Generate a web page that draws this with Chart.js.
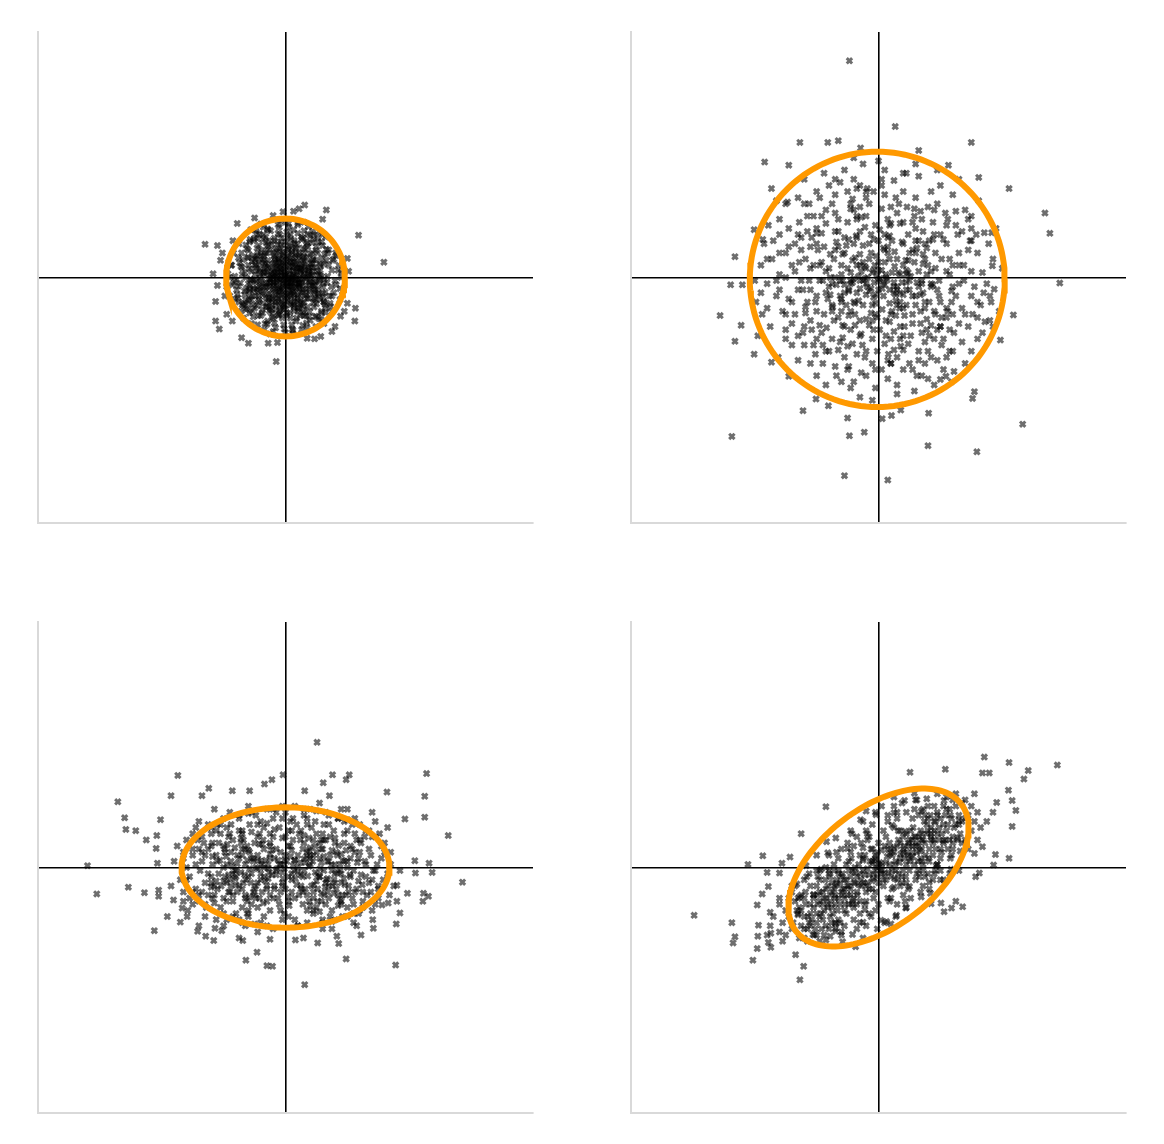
<!DOCTYPE html>
<html>
<head>
<meta charset="utf-8">
<script src="https://cdn.jsdelivr.net/npm/chart.js@4/dist/chart.umd.min.js"></script>
<style>
  html, body { margin: 0; padding: 0; background: #fff; }
  #wrap { position: relative; width: 1164px; height: 1144px; }
  #wrap canvas { position: absolute; }
</style>
</head>
<body>
<div id="wrap">
  <canvas id="c1" width="515" height="511"></canvas>
  <canvas id="c2" width="515" height="511"></canvas>
  <canvas id="c3" width="515" height="511"></canvas>
  <canvas id="c4" width="515" height="511"></canvas>
</div>
<script>
// axes have no ticks, values are in hundredths of a unit
let axisRange = [-400, 400];

// top left: small round cloud
let tlCore = [[-12,8],[5,-3],[23,14],[-31,-9],[41,22],[-7,35],[14,-28],[-45,11],[30,-40],[2,47],[-20,-18],[55,3],[-58,-20],[9,62],[-33,40],[47,-33],[-15,-52],[66,28],[-70,5],[18,-66],[-4,-11],[27,31],[-38,27],[11,18],[-22,-36],[38,-7],[-53,-44],[60,-15],[-9,70],[35,55],[-61,33],[22,-50],[-27,60],[49,44],[-47,-5],[3,-38],[71,-30],[-76,-14],[13,78],[-40,-62],[58,-55],[-18,24],[6,10],[-3,-25],[29,-19],[-26,5],[16,37],[-50,21],[44,9],[-11,-61],[33,-62],[-64,-37],[75,12],[-6,53],[19,-9],[-35,-24],[52,-29],[-17,46],[8,-45],[-43,52],[63,38],[-29,-71],[40,68],[-74,24],[24,4],[-14,-3],[0,20],[-56,-3],[36,-48],[-24,76],[57,19],[-68,-46],[10,-77],[-2,30],[31,12],[-37,8],[20,-33],[-48,-30],[45,30],[-8,-48],[67,-8],[-62,47],[15,56],[-30,-47],[50,-43],[-20,40],[4,-16],[28,48],[-42,-14],[62,-40],[-5,-66],[39,-24],[-55,10],[17,26],[-25,-8],[7,-57],[-66,-28],[53,58],[-10,82],[34,-74],[-80,-4],[82,-12],[-36,70],[26,-85],[-13,15],[21,-2],[-1,-34],[42,-14],[-60,20],[11,42],[-46,34],[48,-63],[-23,-58],[70,45],[-72,-55],[5,88],[-34,-85],[60,70],[-87,20],[86,20],[-16,-82],[37,83],[-52,-64],[16,-4],[-7,4],[3,-6],[-19,-13],[25,22],[-28,17],[12,-21],[-41,-1],[34,1],[-11,28],[9,-31],[-32,-32],[43,40],[-4,41],[18,15],[-24,-27],[31,-30],[-49,5],[56,-4],[1,58],[-57,-13],[47,17],[-12,-40],[23,-43],[-39,44],[64,-24],[-63,-18],[2,-62],[29,64],[-45,63],[54,-67],[-71,40],[73,-47],[-18,64],[39,-56],[-54,-54],[8,70],[-30,50],[50,50],[-3,-77],[68,2],[-77,-33],[24,-62],[-6,-2],[13,5],[-17,-20],[22,-14],[-34,14],[7,26],[-9,-18],[19,33],[-27,-40],[41,-3],[-44,-22],[32,24],[-13,54],[46,-22],[-52,36],[14,-48],[-37,-58],[59,31],[-66,8],[26,66],[-21,-67],[65,-57],[-79,-20],[78,-25],[-48,76],[44,75],[-8,93],[88,-36],[-93,6],[12,-92],[-40,87],[65,66],[-68,-66],[90,8],[6,-1],[-2,13],[15,-12],[-14,-7],[10,25],[-21,10],[27,-7],[-10,-28],[35,-34],[-31,22],[4,37],[-42,-37],[39,16],[-16,32],[20,-55],[-58,-32],[53,5],[-26,-49],[30,40],[-50,-20],[61,-32],[-6,64],[17,-71],[-64,53],[49,-8],[-73,-9],[36,71],[-29,79],[74,-15],[-57,62],[58,-69],[-45,-77],[-84,40],[81,40],[20,89],[-25,-92],[49,-80],[-90,-30],[-3,2],[8,-9],[-15,23],[24,-25],[-36,-16],[38,7],[-5,-42],[45,-40],[-47,15],[16,48],[-22,-45],[55,22],[-60,-40],[2,74],[-35,35],[63,-2],[-69,29],[28,-58],[-12,72],[43,57],[-75,-40],[76,28],[-33,-75],[11,-84],[-83,-8],[62,-75],[-56,78],[30,90],[-95,-15],[92,-28],
  [-3,-4],[7,11],[-11,-15],[14,2],[-18,6],[4,-20],[21,-10],[-9,19],[1,28],[-25,-2],[17,-17],[-6,-30],[26,13],[-16,-24],[9,-8],[-21,21],[32,-3],[-30,9],[12,32],[-2,-52],[36,15],[-40,-20],[24,-36],[-14,42],[44,-12],[-48,-8],[5,45],[-36,-42],[40,38],[-8,-58],[52,-18],[-54,26],[19,54],[-26,44],[30,-52],[-44,40],[56,12],[-60,-10],[8,-66],[46,-48],[-50,-50],[-18,60],[62,22],[-64,0],[34,58],[-4,-8],[10,-2],[-13,4],[6,18],[-8,-22],[18,8],[-20,-8],[2,-14],[15,24],[-24,14],[27,-24],[-12,-34],[30,20],[-32,-16],[-4,38],[38,-18],[-36,30],[10,-42],[22,40],[-44,-30],[44,4],[-16,-44],[50,28],[-52,-18],[28,-46],[-28,52],[0,-46],[54,-6],[-58,14],[14,60],[-38,-52],[48,-36],[-46,48],[60,-26],[-20,-64],[3,5],[-5,-15],[11,-6],[-7,9],[16,16],[-15,-12],[23,-2],[-22,0],[6,-26],[-10,31],[28,28],[-27,-26],[33,-12],[-34,4],[4,-36],[20,-28],[-18,35],[37,5],[-41,15],[-28,-34],[42,24],[-8,48],[14,-54],[-48,30],[48,-26],[-22,-52],[32,46],[-56,-4],[58,2],[-12,-62],[4,66],[-60,32],[62,-10],[-36,62],[38,-64],[-66,-22],[66,46],[0,0],[-2,7],[9,-14],[-12,-2],[7,2],[-17,13],[13,-24],[-3,22],[22,-18],[-26,-16],[19,-39],[35,32],[-39,-6],[25,10],[-31,-48],[47,-6],[-43,24],[10,50],[-10,-54],[52,40],[-56,-36],[26,62],[-32,66],[64,-44],[-70,16],[-15,1],[11,1],[1,-27],[-5,17],[30,2],[-28,28],
  [-1,3],[4,-9],[-9,-5],[13,12],[-14,17],[17,-4],[-19,-9],[8,21],[-6,-19],[21,15],[-23,4],[24,-15],[-11,25],[3,-29],[29,6],[-29,-14],[14,-34],[-18,30],[33,-20],[-34,24],[2,34],[-7,-38],[37,12],[-37,-28],[22,36],[-26,-36],[40,-8],[-42,6],[10,40],[-16,-40],[44,28],[-46,-18],[26,-42],[-30,40],[48,-20],[-50,30],[6,52],[-4,-50],[52,10],[-54,-30],[20,-50],[-22,54],[-5,10],[7,-14],[-12,-22],[16,4],[-20,2],[12,-16],[-8,14],[19,22],[-24,-4],[25,-8],[-15,-30],[8,30],[-32,18],[34,-28],[-3,-44],[30,34],[-38,-10],[41,4],[-10,44],[14,-40],[-44,-40],[46,-14],[-48,20],[18,46],[-52,-4],[54,-26],[-26,-54],[36,50],[0,-10],[-6,25],[10,-24],[-16,8],[22,-10],[-28,-8],[27,17],[-20,-33],[13,-45],[-35,8],[38,-34],[-40,36],[44,16],[-46,-46],[2,-58],[-8,58],[56,-36],[-58,-22],[30,-62],[-32,58],
  [70,20],[-72,18],[20,72],[-18,-74],[62,-40],[-60,44],[45,62],[-44,-62],[80,-5],[-82,2],[5,82],[-2,-84],[58,58],[-58,-58],[58,-58],[-58,58],[75,-30],[-76,32],[30,76],[-30,-76],[68,40],[-66,-42],[40,-70],[-42,70],[85,12],[-86,-12],[12,-86],[-12,86],[65,-50],[-64,-52],[52,66],[-50,64],[78,30],[-78,-28],[28,-78],[-28,78],[88,-18],[-88,20],[-20,-88],[20,86],[72,-42],[-70,-44],[46,70],[-46,72],[60,52],[-62,-50],[50,-64],[-52,60],[90,0],[-90,0],[0,90],[0,-90],[35,-82],[-36,82],[82,36],[-82,-36],[55,75],[-55,-75],[75,-55],[-75,55]];
let tlOuter = [[-130,54],[-110,52],[-78,88],[22,112],[31,118],[13,108],[-4,107],[66,110],[118,69],[159,25],[-117,6],[-105,28],[-110,-13],[-113,-39],[-113,-71],[-107,-84],[-86,-71],[-71,-98],[-60,-107],[-28,-107],[-13,-106],[-15,-137],[47,-100],[57,-96],[89,-63],[113,-50],[112,-71],[100,-42],[100,31],[-102,40],[-98,-30],[95,-55],[80,-80],[-85,60],[60,95],[-50,97],[102,10],[-95,-60],[35,-99],[-20,101],[75,-88]];

// top right: wide round cloud
let trCore = [[-20,15],[35,-40],[-65,50],[80,20],[-100,-30],[15,95],[-45,-85],[120,-60],[-130,70],[60,130],[-10,-140],[150,10],[-160,-20],[25,-15],[-38,32],[70,-90],[-85,110],[110,85],[-120,-110],[5,160],[40,-150],[-150,40],[165,-45],[-5,-60],[55,45],[-75,-10],[95,-20],[-30,75],[12,-95],[-110,15],[130,40],[-55,-130],[85,-130],[-140,-75],[45,170],[-80,150],[140,110],[-170,60],[175,-10],[30,-175],[-12,40],[48,8],[-52,-45],[88,62],[-92,72],[18,-72],[-26,-110],[105,-100],[-118,-58],[68,108],[-42,128],[125,-30],[-135,10],[10,135],[-68,-160],[158,70],[-180,-10],[0,-5],[22,60],[-60,20],[75,-50],[-35,-25],[8,-30],[-88,-60],[102,30],[-20,100],[40,90],[-105,100],[115,-85],[-75,-100],[-2,-120],[145,-80],[-155,-55],[62,-160],[-100,140],[100,150],[-190,20],[185,30],[-25,185],[28,-38],[-48,62],[65,10],[-15,-78],[90,-55],[-78,38],[33,120],[-122,-20],[128,70],[-50,-150],[80,-165],[-160,95],[168,-90],[-5,-180],[-130,-135],[120,135],[-30,-5],[10,25],[45,-20],[-58,-5],[22,-55],[-40,55],[72,38],[-82,-35],[55,-75],[-12,70],[98,-5],[-98,45],[36,-112],[-65,-118],[110,55],[-145,-35],[138,-5],[5,112],[-115,75],[80,115],[-40,160],[150,-120],[-175,-80],[60,185],[-85,-175],[195,-55],[-198,-40],[14,-4],[-8,12],[30,30],[-25,-45],[50,-5],[-45,8],[15,50],[-62,-30],[42,-62],[-20,-28],[68,-28],[-35,95],[88,90],[-95,-5],[25,-88],[-70,75],[115,5],[-108,-85],[65,-120],[-20,-160],[135,-50],[-150,120],[40,140],[-125,45],[160,40],[-55,175],[105,-150],[-140,-110],[-185,55],[180,-70],[-10,-200],[95,175],[-7,-8],[18,-20],[-38,-60],[58,25],[-30,38],[2,78],[-72,-70],[85,-78],[-50,90],[40,-95],[-115,-40],[120,-15],[-15,120],[72,75],[-90,-140],[145,95],[-165,-5],[25,158],[-35,-125],[170,-25],[-120,160],[140,-140],[-195,-95],[190,80],[12,5],[-18,-15],[38,-8],[-48,-22],[26,42],[-55,40],[60,-45],[-5,-42],[78,5],[-80,15],[48,70],[-28,-92],[100,-40],[-105,-110],[20,115],[-135,55],[130,-75],[-70,135],[85,140],[-60,-170],[155,-15],[-172,30],[50,-140],[-112,120],[178,55],[0,190],[-162,-130],[118,-170],[-4,35],[28,-62],[-42,-8],[62,48],[-68,58],[35,5],[-22,82],[82,-40],[-95,-78],[10,-108],[-125,-5],[108,105],[-45,112],[138,20],[-150,-85],[75,-140],[-88,170],[160,-100],[-30,-195],[-200,-5],[200,15],[-22,-2],[6,-52],[44,28],[-36,68],[70,-10],[-74,-48],[20,88],[-100,55],[92,40],[-58,-98],[48,-108],[-128,25],[125,108],[-18,145],[152,-60],[-160,70],[-100,-160],[65,165],[-188,-60],[182,-40],[30,-190],[-6,20],[40,-28],[-30,-70],[55,90],[-85,88],[90,-100],[-110,-20],[5,-150],[148,60],[-140,-40],[-48,-145],[110,-130],[-130,130],[130,160],[-55,-12],[-15,55],[35,-80],[-70,0],[78,-68],[-40,-40],[60,60],[-92,25],[16,-125],[120,20],[-102,-125],[46,115],[-160,5],[168,8],[-62,155],[90,-175],[-178,85],[162,125],[-40,195],[45,12],[-10,-100],[-115,100],[100,-80],[2,-2],[-60,-55],[70,95],[-25,25],[25,-25],[-80,-120],[135,-105],[-45,-180],[-145,80],[150,-30],[0,60],[-120,-80],[112,-55],[30,-130],[-75,120],[95,120],[-180,-50],[185,-80],[-28,-155],[58,-185],[-165,125],[-35,145],[15,-165],[-100,-55],[55,-30],[-65,95],[85,-15],[-130,-95],[125,85],[-8,-85],[-55,65],[75,-105],[-95,130],[100,70],[40,-50],[-30,115],[-110,-140],[160,-65],[-190,-25],[10,175],[-150,0],[145,45],[-70,-145],[65,-135],[-20,-120],[30,105],[-125,65],[115,-120],[-85,-25],[92,15],[-42,-108],[18,68],[-58,-78],[72,22],
  [-12,-18],[22,8],[-40,-2],[45,-45],[-58,38],[62,-8],[-8,62],[12,-70],[-75,-45],[78,48],[-30,-95],[35,88],[-95,20],[98,-30],[-55,-80],[60,80],[-110,-70],[110,-65],[-20,130],[25,-118],[5,12],[-15,30],[30,-15],[-32,-38],[48,28],[-50,15],[55,-60],[-65,75],[72,-25],[-80,-15],[85,10],[-10,-45],[15,40],[-40,110],[42,-80],[-88,50],[90,70],[-102,-40],[118,-40],[-128,90],[130,-10],[-5,-28],[18,-42],[-25,52],[38,58],[-45,-55],[52,-95],[-62,-5],[68,-75],[-70,105],[80,-120],[-100,-100],[102,-110],[-140,20],[135,75],[0,25],[-28,10],[25,-8],[-38,-78],[40,20],[-50,-112],[58,112],[-72,30],[75,-40],[-85,-120],[92,-60],[-118,30],[115,30],[-135,-60],[140,-60],[-50,140],[55,-150],[8,-8],[-20,-10],[10,45],[-35,65],[34,-50],[-60,-35],[65,60],[-78,0],[82,-95],[-108,65],[112,95],[-122,-90],[122,-90],[-145,50],[150,80],[-165,-30],[-2,-65],[18,85],[-22,-130],[28,130],[-48,-20],[50,-20],[-92,-90],[95,-135],[-30,150],[20,-140],
  [-3,3],[10,-12],[-15,-22],[26,18],[-32,2],[35,-25],[-42,28],[52,2],[-55,-25],[60,-30],[8,48],[-12,-58],[40,55],[-48,-62],[68,-55],[-70,45],[2,-85],[-5,85],[88,-12],[-90,-5],[-25,-5],[18,30],[-8,-32],[45,-8],[-38,-42],[30,-45],[-60,5],[75,30],[-78,-28],[20,-100],[-28,98],[102,-65],[-100,72],[58,100],[-62,-105],[-10,8],[6,-18],[-22,18],[28,-28],[-45,-10],[15,65],[-20,-68],[50,40],[-52,52],[65,-15],[-68,-12],[82,60],[-84,-82],[95,-85],[-105,20],[110,10],[-112,-5],[40,-118],[-45,120],[0,12],[12,0],[-18,0],[0,-20],[32,8],[-30,-18],[20,-60],[-35,20],[-65,-65],[70,-5],[78,-85],[-92,100],[105,62],[-118,-48],[118,-22],[-8,140],[15,-135],
  [-160,40],[160,-40],[-120,120],[120,-120],[-40,-170],[40,170],[-180,30],[180,-30],[-150,-100],[150,100],[-70,160],[70,-160],[-90,-110],[90,110],[-130,-20],[130,20],[-20,140],[20,-140],[-60,-40],[60,40],[-100,80],[100,-80],[-45,-5],[45,5],[-10,-70],[10,70],[-75,-55],[75,55],[-30,20],[30,-20],[-5,-150],[5,150],[-110,50],[110,-50],[-150,-60],[150,60],[-85,10],[85,-10],[-35,100],[35,-100]];
let trOuter = [[-47,353],[27,246],[-127,220],[-82,220],[-65,223],[-29,211],[-184,188],[-145,183],[65,207],[150,220],[113,183],[162,163],[211,145],[269,105],[277,72],[293,-9],[-173,145],[-147,123],[-232,34],[-239,-12],[-220,-12],[-256,-62],[-222,-78],[-232,-104],[-201,-125],[-173,-138],[218,-61],[197,-102],[155,-186],[152,-197],[-101,-198],[-122,-217],[-81,-209],[-50,-229],[-47,-258],[-23,-252],[-237,-259],[6,-230],[21,-225],[36,-216],[81,-221],[80,-274],[159,-284],[233,-239],[-55,-323],[15,-330],[100,-166],[109,-161],[122,-153],[-145,-161],[172,-72],[187,-19],[184,19],[171,73],[183,73],[-201,78],[-187,62]];

// bottom left: wide flat cloud
let blCore = [[-10,5],[25,-12],[-45,20],[60,30],[-80,-15],[100,10],[-120,35],[140,-20],[-150,-40],[5,60],[-30,-55],[45,-50],[-70,55],[85,-45],[-100,-50],[120,45],[-135,10],[155,15],[-20,80],[30,85],[-60,-80],[70,70],[-95,65],[110,-60],[-160,0],[15,-85],[-5,-25],[40,5],[-55,-10],[75,-5],[-88,25],[95,40],[-115,-30],[130,5],[-25,40],[10,-40],[50,55],[-65,-50],[90,-25],[-105,55],[125,-40],[-140,-55],[0,90],[-40,-90],[60,-85],[-125,70],[145,50],[-165,25],[165,-10],[20,20],[-15,-5],[35,25],[-48,-30],[65,-25],[-75,15],[80,40],[-90,-40],[105,-15],[-110,10],[-35,65],[45,-75],[-55,90],[75,-70],[-130,-25],[135,30],[-8,-70],[18,70],[-150,55],[150,-50],[-70,-65],[95,75],[-20,-100],[40,95],[-170,-20],[160,40],[2,10],[-28,-18],[42,-30],[-62,35],[55,15],[-82,-5],[88,5],[-98,25],[112,25],[-118,-50],[28,-60],[-42,55],[62,45],[-78,-40],[98,-45],[-140,30],[142,-5],[12,45],[-12,-50],[-100,80],[80,-85],[-58,70],[58,-55],[-128,-65],[120,70],[-155,-15],[170,5],[-35,0],[30,-5],[-50,40],[55,-15],[-68,-25],[72,20],[-85,45],[90,-60],[-108,-10],[115,-35],[5,-15],[-22,28],[38,48],[-45,-65],[48,75],[-75,-85],[85,80],[-118,40],[125,-65],[-145,-35],[155,35],[-5,100],[20,-95],[-90,90],[100,-80],[-160,45],[-130,-80],[140,-70],[-180,10],[175,-30],[-2,-2],[15,12],[-18,15],[25,-30],[-38,-40],[48,35],[-60,-15],[68,-40],[-72,40],[82,25],[-95,-25],[102,-30],[-112,60],[118,15],[-25,-70],[35,-90],[-48,85],[65,90],[-80,-75],[92,-80],[-135,50],[135,60],[-150,-60],[150,-30],[10,-20],[-40,10],[45,20],[-65,5],[70,-50],[-95,5],[105,35],[-125,-45],[130,-15],[-10,65],[25,60],[-30,-35],[52,-35],[-55,-60],[78,60],[-88,70],[90,-10],[-105,-65],[110,-90],[-140,75],[145,75],[-165,-40],[-45,-105],[55,105],[-115,95],[115,-95],[8,35],[-8,25],[22,-45],[-35,-15],[38,-55],[-52,10],[62,-5],[-70,60],[78,-20],[-85,-55],[95,55],[-100,35],[108,-50],[-120,-15],[122,40],[-138,-5],[148,5],[-15,90],[15,100],[-65,-95],[75,-100],[-95,-85],[100,95],[-158,-70],[165,65],[-175,35],[180,-55],[0,-35],[-20,50],[30,40],[-42,-50],[42,65],[-58,25],[68,10],[-75,-30],[82,-35],[-92,50],[100,60],[-110,-35],[118,-75],[-130,20],[132,-45],[-145,65],[152,55],[-5,-85],[12,80],[-40,75],[50,-65],[-70,-90],[70,85],[-100,-95],[90,95],[-165,15],[170,25],[-28,5],[32,8],[-50,-45],[58,45],[-78,20],[88,-5],[-98,-15],[105,15],[-120,55],[125,-55],[-135,-40],[138,20],[-18,-30],[28,30],[-38,38],[45,-40],[-62,-75],[62,70],[-85,-10],[92,-45],[-112,-85],[112,80],[-150,20],[158,-20],[-60,100],[60,-100],[-140,-95],[140,90],[-185,-30],[185,-5],[-25,15],[20,-8],[-5,48],[5,-55],[-45,-25],[40,15],[-88,10],[80,-10],[-125,30],[128,50],[-155,-50],[-30,95],[35,-70],[-75,80],[72,-80],[-105,70],[108,70],[-142,45],[145,-60],[-165,-55],[168,-45],
  [-5,-8],[12,3],[-22,-12],[30,14],[-38,5],[48,-8],[-60,28],[68,-18],[-82,32],[90,22],[-100,-22],[110,-5],[-15,30],[18,-28],[-30,-30],[40,32],[-52,-40],[55,40],[-70,-35],[78,-42],[-88,-30],[92,12],[-112,20],[118,-22],[0,20],[-8,-40],[24,45],[-42,38],[50,-22],[-58,-2],[62,18],[-72,-8],[80,-25],[-92,-12],[98,28],[-108,40],[112,-40],[-125,-10],[128,10],[6,-62],[-18,62],[35,-45],[-45,50],[58,-42],[-68,45],[72,50],[-85,-45],[88,-52],[-2,5],[10,-10],[-12,12],[20,0],[-28,-2],[36,-14],[-40,-10],[44,10],[-52,15],[58,8],[-66,-12],[74,4],[-78,6],[84,-8],[-96,18],[104,-12],[-104,-30],[108,30],[-118,5],[-20,-50],[22,55],[-36,-58],[40,-62],[-55,58],[60,55],[-75,60],[85,-62],[-95,-55],[100,-65],[5,35],[-5,-30],[15,-50],[-25,55],[32,-35],[-35,30],[45,45],[-48,-50],[52,-55],[-62,-55],[65,-60],[-2,-75],[8,75],[-30,72],[35,70],[-60,-70],[55,-72],[-115,-58],[112,55],[-132,40],[138,-40],[-8,5],[16,-18],[-25,22],[28,-15],[-32,12],[38,2],[-45,-2],[50,25],[-56,-25],[64,-32],[-70,20],[75,28],[-82,-18],[86,36],[-94,38],[96,-28],[-120,-32],[122,-12],
  [-2,12],[14,-5],[-26,-8],[34,18],[-44,12],[52,-12],[-64,-20],[70,10],[-86,2],[94,-18],[-106,12],[10,28],[-18,-35],[28,-40],[-36,45],[46,-28],[-50,-35],[58,30],[-66,30],[76,-30],[-90,-20],[96,10],[-112,-22],[116,8],[-4,-18],[8,18],[-14,-2],[24,8],[-32,-22],[38,28],[-48,0],[56,-2],[-62,12],[66,-20],[-80,-28],[84,20],[-98,30],[102,-40],[-118,18],[124,-28],[0,50],[5,-48],[-25,-45],[30,52],[-58,-48],[62,-45],[-72,48],[80,48],[-92,-40],
  [-150,30],[150,-35],[-140,-45],[140,50],[-120,65],[120,-70],[-100,-75],[100,78],[-75,85],[75,-88],[-50,-92],[50,92],[-20,95],[20,-95],[-160,-20],[160,25],[-130,-60],[130,60],[-110,70],[110,-75],[-85,-80],[85,80],[-60,88],[60,-90],[-30,-95],[30,95],[-5,80],[5,-80],[-45,70],[45,-70],[-90,55],[90,-55],[-115,-45],[115,45],[-135,25],[135,-25],[-145,5],[145,-5],[-70,30],[70,-30],[-40,-20],[40,20],[-15,-12],[15,12],[-100,0],[100,0],[-65,-45],[65,45],[-25,35],[25,-35],[-55,15],[55,-15],[-80,-5],[80,5],[-10,-60],[10,60],[-120,-25],[120,25],[-35,-80],[35,80]];
let blOuter = [[51,204],[-174,150],[-271,107],[-260,81],[-258,62],[-242,60],[-225,45],[-208,52],[-202,78],[-209,31],[-207,7],[-320,3],[-305,-43],[-254,-32],[-228,-41],[-205,-37],[-205,-47],[-185,117],[-135,117],[-124,129],[-86,125],[-58,125],[-34,136],[-22,143],[-4,151],[61,138],[76,151],[98,143],[103,151],[31,125],[71,117],[164,123],[228,153],[225,116],[225,82],[193,79],[263,52],[209,11],[232,7],[237,-8],[210,-9],[286,-24],[197,-42],[223,-42],[222,-55],[231,-47],[180,-29],[166,-58],[156,-61],[185,-74],[179,-92],[178,-159],[141,-85],[142,-99],[122,-110],[98,-149],[83,-112],[86,-124],[52,-123],[31,-191],[16,-118],[29,-115],[-25,-117],[-30,-160],[-21,-161],[-64,-151],[-46,-138],[-69,-119],[-75,-115],[-116,-119],[-129,-112],[-142,-104],[-212,-103],[-191,-80],[-170,-89],[-159,-80],[-181,-53],[-167,-66],[-103,-103],[-114,-99]];

// bottom right: tilted cloud
let brCore = [[-10,6],[20,-15],[-40,-50],[60,50],[-80,-10],[100,30],[-120,-80],[130,70],[-5,-70],[15,75],[-30,20],[35,-30],[-55,-70],[70,10],[-90,-60],[95,90],[-110,-30],[115,95],[0,40],[-20,-40],[45,55],[-65,-5],[80,-10],[-100,-90],[120,40],[-135,-55],[8,-30],[-12,30],[25,25],[-45,-15],[52,15],[-70,-60],[85,65],[-95,-20],[105,70],[-125,-95],[140,45],[-20,60],[30,-60],[-60,30],[60,-20],[-85,-95],[90,100],[-5,90],[10,-90],[-140,-40],[145,85],[18,5],[-25,-5],[40,30],[-50,-45],[65,35],[-75,-40],[88,20],[-105,-65],[110,60],[-115,-100],[125,100],[-35,50],[40,-45],[-68,25],[72,-30],[-92,-100],[95,5],[-2,-100],[5,100],[-150,-70],[150,60],[-30,-75],[30,80],[2,8],[-15,-12],[28,10],[-38,-25],[48,40],[-58,-35],[62,25],[-78,-55],[78,55],[-98,-45],[98,45],[-118,-60],[118,80],[-130,-75],[132,55],[-8,-50],[12,50],[-48,10],[50,-5],[-70,-90],[75,85],[-100,-5],[100,-5],[-120,-115],[125,120],[-20,-95],[25,100],[-155,-90],[155,75],[-45,60],[45,-65],[5,-10],[-5,15],[22,-5],[-28,-30],[35,40],[-42,-55],[55,25],[-60,-15],[68,60],[-82,-30],[82,10],[-88,-70],[92,75],[-108,-85],[112,30],[-128,-65],[130,85],[-18,45],[20,-50],[-55,-95],[58,95],[-80,20],[82,-35],[-112,-10],[110,115],[-140,-100],[-160,-60],[160,90],[-35,-100],[38,105],[-2,0],[12,-20],[-22,20],[32,-10],[-35,-40],[42,15],[-52,-20],[58,50],[-65,-50],[70,30],[-78,-80],[85,45],[-95,-55],[102,55],[-110,-75],[115,45],[-125,-45],[135,75],[0,-60],[-10,70],[-40,35],[48,-35],[-72,5],[75,-15],[-100,-110],[105,100],[-145,-80],[140,110],[-25,75],[28,-80],[-170,-80],[165,65],[15,30],[-18,-25],[30,-20],[-32,5],[45,5],[-48,-60],[52,60],[-62,-25],[65,-5],[-75,-65],[80,80],[-90,-40],[92,30],[-105,-45],[108,85],[-120,-50],[122,65],[-138,-90],[-50,40],[52,-50],[-85,0],[88,-20],[-115,-120],[115,-10],[-5,-40],[8,60],[-30,-55],[32,60],[-60,-105],[62,110],[-95,-120],[95,120],[-150,-110],[150,100],[-175,-95],[175,75],[6,-4],[-8,-18],[18,22],[-25,12],[38,-15],[-45,-35],[50,45],[-55,-50],[62,-10],[-70,-30],[75,40],[-82,-65],[90,60],[-100,-30],[100,80],[-112,-90],[118,20],[-132,-70],[135,40],[-12,-80],[15,85],[-40,-85],[45,90],[-65,15],[68,-40],[-88,-110],[90,-10],[-120,-20],[120,110],[-145,-50],[145,30],[-22,-60],[25,65],[-2,25],[0,-25],[-38,0],[40,-5],[-70,-100],[72,95],[-98,-15],[100,15],[-128,-115],[130,-5],[-160,-105],[160,45],[-10,-35],[10,35],[-30,-10],[35,15],[-52,-75],[55,80],[-78,-15],[80,15],[-102,-100],[105,-20],[-135,-30],[135,105],[-48,-5],[50,10],[-95,-80],[95,85],[-155,-120],[155,120],[-180,-110],[185,90],
  [0,5],[-8,-10],[12,8],[-18,-2],[22,20],[-28,-20],[34,8],[-38,-8],[42,35],[-48,-30],[55,18],[-58,-45],[62,40],[-68,-20],[72,45],[-78,-45],[82,30],[-88,-50],[90,45],[-98,-60],[105,40],[-5,20],[8,-20],[-15,-35],[18,40],[-25,15],[28,-5],[-35,-15],[40,50],[-45,-45],[48,20],[-55,-20],[60,35],[-62,-60],[68,15],[-72,-35],[78,70],[-82,-60],[88,40],[-92,-75],[98,65],[-105,-50],[108,45],[-10,-22],[14,18],[-22,-12],[25,32],[-32,-28],[36,22],[-42,-5],[46,25],[-50,-30],[54,45],[-60,-40],[64,10],[-66,-70],[70,55],[-75,-25],[76,20],[-85,-35],[85,55],[-95,-40],[95,55],[-2,-15],[5,28],[-20,-55],[22,-35],[-28,40],[32,45],[-40,-65],[44,-15],[-52,5],[56,65],[-64,-10],[66,-15],[-74,-75],[74,75],[-80,-5],[84,85],[-90,-85],[92,-5],[-110,-60],[112,70],[-118,-40],[120,50],[3,-5],[-6,12],[16,-8],[-14,10],[26,5],[-24,-25],[30,35],[-34,-45],[38,-25],[-44,15],[50,35],[-54,-60],[58,5],[-58,-10],[66,50],[-70,-50],[72,-5],[-76,-90],[80,60],[-86,-20],[90,75],[-100,-75],[102,25],[-114,-80],[116,85],[-130,-50],[128,45],
  [-43,55],[43,-55],[-4,86],[82,-24],[-82,24],[4,-86],[42,109],[116,15],[-116,-15],[-42,-109],[-29,78],[69,-48],[-69,48],[29,-78],[25,89],[93,3],[-93,-3],[-25,-89],[78,112],[128,48],[-128,-48],[-78,-112],[-25,32],[25,-32],[22,69],[72,5],[-72,-5],[-22,-69],[69,92],[105,44],[-105,-44],[-69,-92],[-18,55],[50,-31],[-50,31],[18,-55],[25,115],[117,-3],[-117,3],[-25,-115],[-20,92],[84,-42],[-84,42],[20,-92],[106,109],[130,77],[-130,-77],[-106,-109],[-10,30],[26,-18],[43,59],[67,27],[-67,-27],[-43,-59],[58,121],[132,27],[-132,-27],[-58,-121],
  [-140,-30],[140,80],[-120,-100],[120,30],[-60,-110],[60,110],[-100,20],[100,-20],[-30,-90],[30,90],[-80,-100],[80,100],[-110,-95],[110,95],[-45,25],[45,-25],[-15,50],[15,-50],[-65,-85],[65,85],[-95,-5],[95,5],[-125,-70],[125,70],[-35,-60],[35,60],[-5,-5],[5,5],[-55,-35],[55,35],[-85,-50],[85,50],[-20,-30],[20,30],[-40,-25],[40,25],[-70,-45],[70,45],[-10,10],[10,-10]];
let brOuter = [[-298,-78],[-237,-90],[-232,-113],[-235,-123],[-203,-151],[-196,-132],[-195,-112],[-194,-94],[-196,-61],[-178,-122],[-174,-130],[-174,-107],[-175,-73],[-121,-161],[-127,-183],[-134,-142],[-211,5],[-187,19],[-180,-8],[-160,-9],[-156,7],[-143,17],[-178,-31],[-188,-43],[-160,-50],[-125,55],[-85,99],[51,155],[108,160],[171,180],[211,171],[168,154],[179,154],[242,158],[235,144],[289,167],[210,126],[216,109],[222,93],[216,67],[191,106],[189,21],[186,4],[211,15],[168,34],[155,23],[163,-9],[157,-15],[136,-64],[125,-55],[118,-66],[106,-72],[101,-58],[85,-59],[44,-66],[13,-88],[-15,-75],[-69,-104],[-62,-90],[-37,-129],[-85,-118],[-104,-110]];

// orange ellipses: centre, half axes, tilt in degrees
let ellipseCenters = [[0,0],[-2,-3],[0,0],[0,0]];
let ellipseRadii = [[96,96],[206,208],[168,98],[169,96]];
let ellipseAngles = [0,0,0,38];

let panelPoints = [tlCore.concat(tlOuter), trCore.concat(trOuter), blCore.concat(blOuter), brCore.concat(brOuter)];
let panelPos = [[28,22],[621,22],[28,612],[621,612]];

function ellipseOutline(c, r, deg) {
  let t = deg * Math.PI / 180;
  let out = [];
  for (let i = 0; i <= 144; i++) {
    let a = i / 144 * 2 * Math.PI;
    let ex = r[0] * Math.cos(a), ey = r[1] * Math.sin(a);
    out.push({x: c[0] + ex * Math.cos(t) - ey * Math.sin(t), y: c[1] + ex * Math.sin(t) + ey * Math.cos(t)});
  }
  return out;
}

function axis() {
  return {
    type: 'linear',
    min: axisRange[0],
    max: axisRange[1],
    ticks: {display: false, stepSize: 400},
    grid: {
      drawTicks: false,
      lineWidth: 1.6,
      color: c => (c.tick && c.tick.value === 0) ? '#000' : 'rgba(0,0,0,0)'
    },
    border: {display: true, color: '#d9d9d9', width: 2}
  };
}

panelPoints.forEach((pts, i) => {
  let cv = document.getElementById('c' + (i + 1));
  cv.style.left = panelPos[i][0] + 'px';
  cv.style.top = panelPos[i][1] + 'px';
  new Chart(cv, {
    type: 'scatter',
    data: {
      datasets: [{
        data: ellipseOutline(ellipseCenters[i], ellipseRadii[i], ellipseAngles[i]),
        showLine: true,
        borderColor: '#ff9900',
        borderWidth: 6,
        pointRadius: 0,
        fill: false
      }, {
        data: pts.map(p => ({x: p[0], y: p[1]})),
        pointStyle: 'crossRot',
        pointRadius: 3.8,
        borderWidth: 3,
        borderColor: 'rgba(0,0,0,0.57)',
        backgroundColor: 'rgba(0,0,0,0.57)'
      }]
    },
    options: {
      responsive: false,
      animation: false,
      events: [],
      layout: {padding: 10},
      plugins: {legend: {display: false}, tooltip: {enabled: false}},
      scales: {x: axis(), y: axis()}
    }
  });
});
</script>
</body>
</html>
